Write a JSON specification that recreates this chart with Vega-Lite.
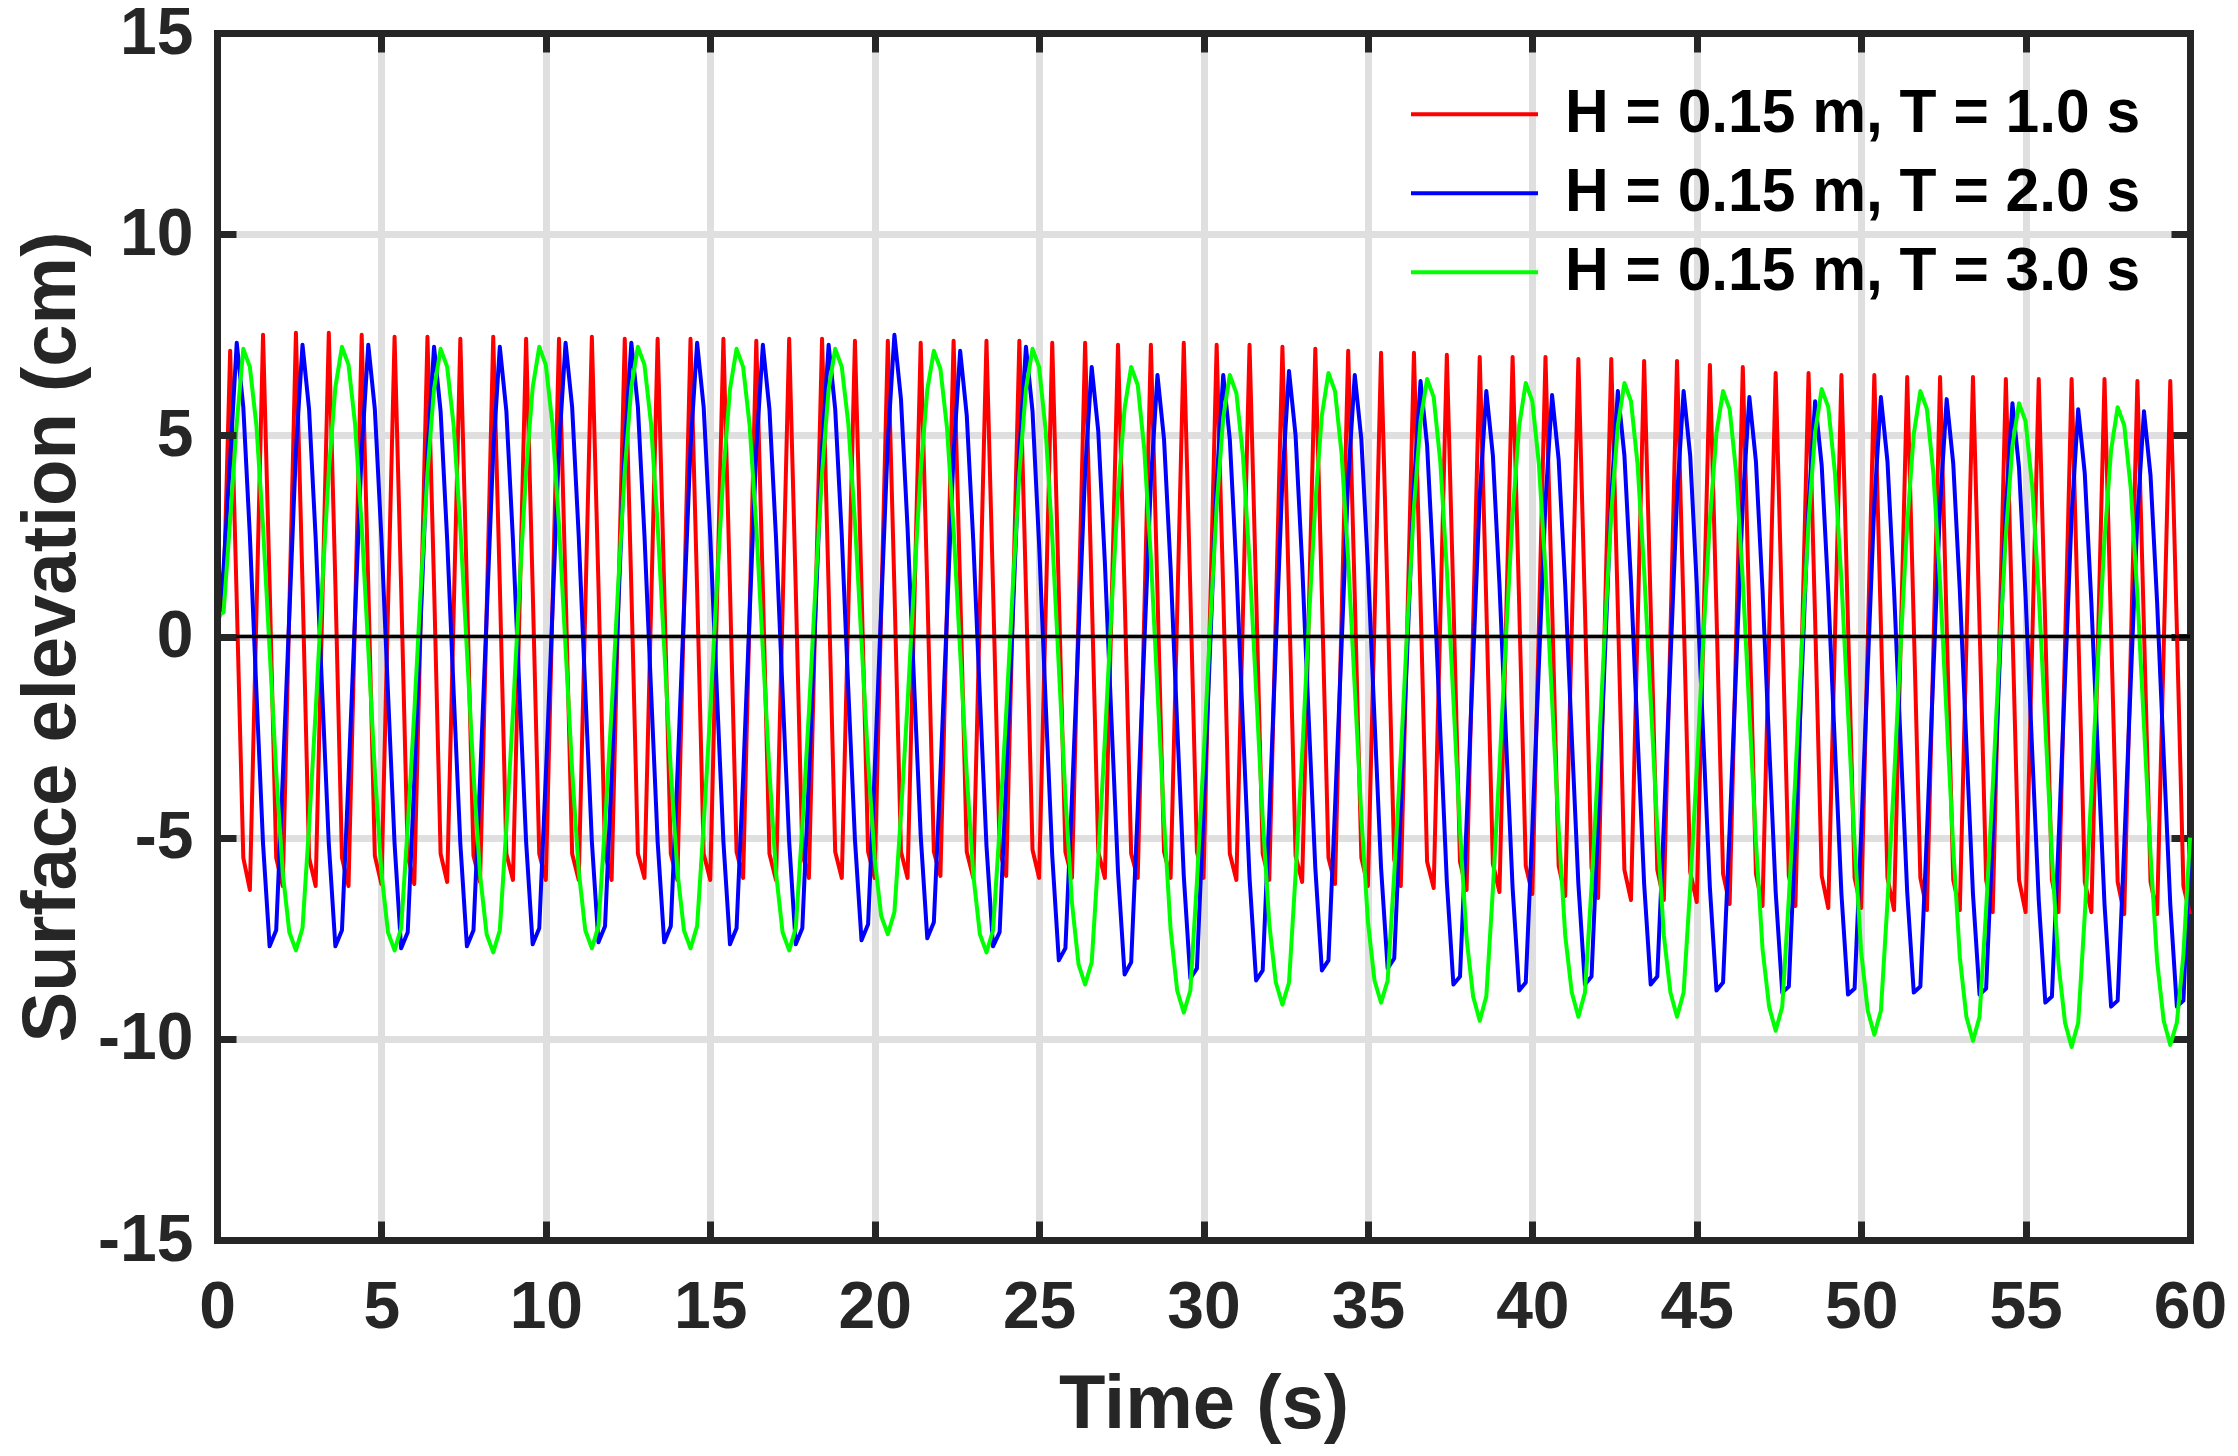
{
  "$schema": "https://vega.github.io/schema/vega-lite/v6.json",
  "description": "Surface elevation time series for three regular waves",
  "width": 1973,
  "height": 1207,
  "autosize": {"type": "none"},
  "padding": {"left": 217, "top": 33, "right": 48, "bottom": 216},
  "background": "white",
  "config": {
    "view": {"stroke": null},
    "axis": {
      "domainColor": "#262626", "domainWidth": 7, "domainCap": "square",
      "tickColor": "#262626", "tickWidth": 7, "tickSize": -19,
      "gridColor": "#dfdfdf", "gridWidth": 7, "gridOpacity": 1,
      "labelFont": "Liberation Sans", "labelFontWeight": "bold", "labelFontSize": 66, "labelColor": "#262626",
      "titleFont": "Liberation Sans", "titleFontWeight": "bold", "titleFontSize": 76, "titleColor": "#262626",
      "labelOverlap": false, "labelFlush": false
    }
  },
  "data": {
    "values": [
      {"t":0,"r":0.2,"b":0,"g":0.5},{"t":0.2,"r":1.0,"b":1.7,"g":0.6},{"t":0.4,"r":7.1,"b":4.4,"g":2.9},{"t":0.6,"r":0.9,"b":7.3,"g":5.3},{"t":0.8,"r":-5.5,"b":5.7,"g":7.15},
      {"t":1.0,"r":-6.3,"b":2.5,"g":6.7},{"t":1.2,"r":0.6,"b":-1.4,"g":5.23},{"t":1.4,"r":7.5,"b":-5.15,"g":2.72},{"t":1.6,"r":1.3,"b":-7.7,"g":-0.33},{"t":1.8,"r":-5.5,"b":-7.3,"g":-3.37},
      {"t":2.0,"r":-6.2,"b":-3.5,"g":-5.88},{"t":2.2,"r":0.7,"b":0.55,"g":-7.35},{"t":2.4,"r":7.55,"b":4.6,"g":-7.8},{"t":2.6,"r":1.3,"b":7.25,"g":-7.25},{"t":2.8,"r":-5.5,"b":5.65,"g":-4.71},
      {"t":3.0,"r":-6.2,"b":2.45,"g":-1.86},{"t":3.2,"r":0.7,"b":-1.4,"g":1.26},{"t":3.4,"r":7.55,"b":-5.15,"g":4.11},{"t":3.6,"r":1.3,"b":-7.7,"g":6.2},{"t":3.8,"r":-5.5,"b":-7.3,"g":7.2},
      {"t":4.0,"r":-6.2,"b":-3.5,"g":6.75},{"t":4.2,"r":0.6,"b":0.55,"g":5.27},{"t":4.4,"r":7.5,"b":4.6,"g":2.75},{"t":4.6,"r":1.3,"b":7.25,"g":-0.3},{"t":4.8,"r":-5.45,"b":5.65,"g":-3.35},
      {"t":5.0,"r":-6.15,"b":2.45,"g":-5.87},{"t":5.2,"r":0.7,"b":-1.4,"g":-7.35},{"t":5.4,"r":7.45,"b":-5.15,"g":-7.8},{"t":5.6,"r":1.2,"b":-7.75,"g":-7.25},{"t":5.8,"r":-5.45,"b":-7.35,"g":-4.72},
      {"t":6.0,"r":-6.15,"b":-3.55,"g":-1.88},{"t":6.2,"r":0.6,"b":0.5,"g":1.23},{"t":6.4,"r":7.45,"b":4.55,"g":4.07},{"t":6.6,"r":1.3,"b":7.2,"g":6.15},{"t":6.8,"r":-5.4,"b":5.6,"g":7.15},
      {"t":7.0,"r":-6.1,"b":2.4,"g":6.7},{"t":7.2,"r":0.7,"b":-1.45,"g":5.22},{"t":7.4,"r":7.4,"b":-5.15,"g":2.7},{"t":7.6,"r":1.2,"b":-7.7,"g":-0.35},{"t":7.8,"r":-5.45,"b":-7.3,"g":-3.4},
      {"t":8.0,"r":-6.1,"b":-3.55,"g":-5.92},{"t":8.2,"r":0.6,"b":0.5,"g":-7.4},{"t":8.4,"r":7.45,"b":4.6,"g":-7.85},{"t":8.6,"r":1.3,"b":7.2,"g":-7.3},{"t":8.8,"r":-5.4,"b":5.6,"g":-4.75},
      {"t":9.0,"r":-6.05,"b":2.4,"g":-1.89},{"t":9.2,"r":0.7,"b":-1.4,"g":1.24},{"t":9.4,"r":7.4,"b":-5.1,"g":4.1},{"t":9.6,"r":1.2,"b":-7.65,"g":6.19},{"t":9.8,"r":-5.4,"b":-7.25,"g":7.2},
      {"t":10.0,"r":-6.05,"b":-3.45,"g":6.75},{"t":10.2,"r":0.7,"b":0.6,"g":5.28},{"t":10.4,"r":7.4,"b":4.7,"g":2.77},{"t":10.6,"r":1.2,"b":7.3,"g":-0.28},{"t":10.8,"r":-5.4,"b":5.7,"g":-3.32},
      {"t":11.0,"r":-6.05,"b":2.5,"g":-5.83},{"t":11.2,"r":0.7,"b":-1.35,"g":-7.3},{"t":11.4,"r":7.45,"b":-5.1,"g":-7.75},{"t":11.6,"r":1.3,"b":-7.6,"g":-7.2},{"t":11.8,"r":-5.4,"b":-7.2,"g":-4.67},
      {"t":12.0,"r":-6.05,"b":-3.45,"g":-1.83},{"t":12.2,"r":0.7,"b":0.65,"g":1.28},{"t":12.4,"r":7.4,"b":4.7,"g":4.12},{"t":12.6,"r":1.2,"b":7.3,"g":6.2},{"t":12.8,"r":-5.4,"b":5.7,"g":7.2},
      {"t":13.0,"r":-6.0,"b":2.5,"g":6.75},{"t":13.2,"r":0.7,"b":-1.35,"g":5.28},{"t":13.4,"r":7.4,"b":-5.1,"g":2.77},{"t":13.6,"r":1.2,"b":-7.6,"g":-0.28},{"t":13.8,"r":-5.4,"b":-7.2,"g":-3.32},
      {"t":14.0,"r":-6.05,"b":-3.45,"g":-5.83},{"t":14.2,"r":0.7,"b":0.65,"g":-7.3},{"t":14.4,"r":7.4,"b":4.7,"g":-7.75},{"t":14.6,"r":1.2,"b":7.3,"g":-7.2},{"t":14.8,"r":-5.4,"b":5.7,"g":-4.68},
      {"t":15.0,"r":-6.05,"b":2.5,"g":-1.85},{"t":15.2,"r":0.7,"b":-1.35,"g":1.25},{"t":15.4,"r":7.4,"b":-5.1,"g":4.08},{"t":15.6,"r":1.2,"b":-7.65,"g":6.15},{"t":15.8,"r":-5.35,"b":-7.25,"g":7.15},
      {"t":16.0,"r":-6.0,"b":-3.5,"g":6.7},{"t":16.2,"r":0.7,"b":0.6,"g":5.23},{"t":16.4,"r":7.35,"b":4.65,"g":2.72},{"t":16.6,"r":1.2,"b":7.25,"g":-0.33},{"t":16.8,"r":-5.4,"b":5.65,"g":-3.37},
      {"t":17.0,"r":-6.05,"b":2.45,"g":-5.88},{"t":17.2,"r":0.7,"b":-1.4,"g":-7.35},{"t":17.4,"r":7.4,"b":-5.1,"g":-7.8},{"t":17.6,"r":1.2,"b":-7.65,"g":-7.25},{"t":17.8,"r":-5.4,"b":-7.25,"g":-4.72},
      {"t":18.0,"r":-6.0,"b":-3.5,"g":-1.88},{"t":18.2,"r":0.7,"b":0.6,"g":1.23},{"t":18.4,"r":7.4,"b":4.65,"g":4.07},{"t":18.6,"r":1.2,"b":7.25,"g":6.15},{"t":18.8,"r":-5.35,"b":5.65,"g":7.15},
      {"t":19.0,"r":-6.0,"b":2.5,"g":6.7},{"t":19.2,"r":0.7,"b":-1.35,"g":5.28},{"t":19.4,"r":7.35,"b":-5.05,"g":2.84},{"t":19.6,"r":1.2,"b":-7.55,"g":-0.13},{"t":19.8,"r":-5.35,"b":-7.15,"g":-3.09},
      {"t":20.0,"r":-6.0,"b":-3.35,"g":-5.53},{"t":20.2,"r":0.7,"b":0.75,"g":-6.95},{"t":20.4,"r":7.35,"b":4.85,"g":-7.4},{"t":20.6,"r":1.2,"b":7.5,"g":-6.85},{"t":20.8,"r":-5.35,"b":5.9,"g":-4.41},
      {"t":21.0,"r":-6.0,"b":2.7,"g":-1.66},{"t":21.2,"r":0.6,"b":-1.2,"g":1.36},{"t":21.4,"r":7.3,"b":-4.95,"g":4.11},{"t":21.6,"r":1.2,"b":-7.5,"g":6.13},{"t":21.8,"r":-5.35,"b":-7.1,"g":7.1},
      {"t":22.0,"r":-5.95,"b":-3.4,"g":6.65},{"t":22.2,"r":0.7,"b":0.55,"g":5.18},{"t":22.4,"r":7.35,"b":4.55,"g":2.67},{"t":22.6,"r":1.2,"b":7.1,"g":-0.38},{"t":22.8,"r":-5.35,"b":5.5,"g":-3.42},
      {"t":23.0,"r":-6.0,"b":2.35,"g":-5.93},{"t":23.2,"r":0.7,"b":-1.5,"g":-7.4},{"t":23.4,"r":7.35,"b":-5.2,"g":-7.85},{"t":23.6,"r":1.2,"b":-7.7,"g":-7.3},{"t":23.8,"r":-5.3,"b":-7.35,"g":-4.76},
      {"t":24.0,"r":-5.95,"b":-3.55,"g":-1.91},{"t":24.2,"r":0.7,"b":0.5,"g":1.21},{"t":24.4,"r":7.35,"b":4.55,"g":4.06},{"t":24.6,"r":1.2,"b":7.2,"g":6.15},{"t":24.8,"r":-5.3,"b":5.6,"g":7.15},
      {"t":25.0,"r":-6.0,"b":2.3,"g":6.7},{"t":25.2,"r":0.6,"b":-1.65,"g":5.12},{"t":25.4,"r":7.3,"b":-5.45,"g":2.47},{"t":25.6,"r":1.1,"b":-8.05,"g":-0.75},{"t":25.8,"r":-5.35,"b":-7.75,"g":-3.97},
      {"t":26.0,"r":-6.0,"b":-4.0,"g":-6.62},{"t":26.2,"r":0.6,"b":0.05,"g":-8.15},{"t":26.4,"r":7.3,"b":4.1,"g":-8.65},{"t":26.6,"r":1.1,"b":6.7,"g":-8.1},{"t":26.8,"r":-5.35,"b":5.1,"g":-5.49},
      {"t":27.0,"r":-6.0,"b":1.85,"g":-2.57},{"t":27.2,"r":0.6,"b":-2.05,"g":0.62},{"t":27.4,"r":7.25,"b":-5.85,"g":3.54},{"t":27.6,"r":1.1,"b":-8.4,"g":5.67},{"t":27.8,"r":-5.4,"b":-8.1,"g":6.7},
      {"t":28.0,"r":-6.0,"b":-4.3,"g":6.25},{"t":28.2,"r":0.6,"b":-0.2,"g":4.64},{"t":28.4,"r":7.25,"b":3.85,"g":1.94},{"t":28.6,"r":1.1,"b":6.5,"g":-1.33},{"t":28.8,"r":-5.35,"b":4.9,"g":-4.59},
      {"t":29.0,"r":-6.0,"b":1.7,"g":-7.29},{"t":29.2,"r":0.6,"b":-2.2,"g":-8.8},{"t":29.4,"r":7.3,"b":-5.95,"g":-9.35},{"t":29.6,"r":1.1,"b":-8.5,"g":-8.8},{"t":29.8,"r":-5.35,"b":-8.25,"g":-6.09},
      {"t":30.0,"r":-6.0,"b":-4.4,"g":-3.07},{"t":30.2,"r":0.6,"b":-0.3,"g":0.22},{"t":30.4,"r":7.25,"b":3.85,"g":3.23},{"t":30.6,"r":1.1,"b":6.5,"g":5.44},{"t":30.8,"r":-5.4,"b":4.9,"g":6.5},
      {"t":31.0,"r":-6.05,"b":1.7,"g":6.05},{"t":31.2,"r":0.6,"b":-2.25,"g":4.49},{"t":31.4,"r":7.25,"b":-6.0,"g":1.86},{"t":31.6,"r":1.1,"b":-8.55,"g":-1.33},{"t":31.8,"r":-5.4,"b":-8.3,"g":-4.51},
      {"t":32.0,"r":-6.05,"b":-4.45,"g":-7.14},{"t":32.2,"r":0.6,"b":-0.25,"g":-8.6},{"t":32.4,"r":7.2,"b":3.9,"g":-9.15},{"t":32.6,"r":1.0,"b":6.6,"g":-8.6},{"t":32.8,"r":-5.45,"b":5.0,"g":-5.92},
      {"t":33.0,"r":-6.1,"b":1.8,"g":-2.93},{"t":33.2,"r":0.5,"b":-2.05,"g":0.33},{"t":33.4,"r":7.15,"b":-5.75,"g":3.32},{"t":33.6,"r":1.0,"b":-8.3,"g":5.5},{"t":33.8,"r":-5.5,"b":-8.05,"g":6.55},
      {"t":34.0,"r":-6.15,"b":-4.25,"g":6.1},{"t":34.2,"r":0.5,"b":-0.2,"g":4.54},{"t":34.4,"r":7.1,"b":3.9,"g":1.91},{"t":34.6,"r":1.0,"b":6.5,"g":-1.28},{"t":34.8,"r":-5.5,"b":4.9,"g":-4.46},
      {"t":35.0,"r":-6.2,"b":1.75,"g":-7.09},{"t":35.2,"r":0.4,"b":-2.05,"g":-8.55},{"t":35.4,"r":7.05,"b":-5.75,"g":-9.1},{"t":35.6,"r":0.9,"b":-8.25,"g":-8.55},{"t":35.8,"r":-5.55,"b":-8.0,"g":-5.91},
      {"t":36.0,"r":-6.2,"b":-4.25,"g":-2.96},{"t":36.2,"r":0.4,"b":-0.25,"g":0.26},{"t":36.4,"r":7.05,"b":3.75,"g":3.21},{"t":36.6,"r":0.9,"b":6.35,"g":5.36},{"t":36.8,"r":-5.6,"b":4.75,"g":6.4},
      {"t":37.0,"r":-6.25,"b":1.55,"g":5.95},{"t":37.2,"r":0.4,"b":-2.35,"g":4.35},{"t":37.4,"r":7.0,"b":-6.1,"g":1.67},{"t":37.6,"r":0.9,"b":-8.65,"g":-1.58},{"t":37.8,"r":-5.6,"b":-8.45,"g":-4.82},
      {"t":38.0,"r":-6.3,"b":-4.65,"g":-7.5},{"t":38.2,"r":0.3,"b":-0.6,"g":-8.95},{"t":38.4,"r":6.95,"b":3.45,"g":-9.55},{"t":38.6,"r":0.8,"b":6.1,"g":-8.95},{"t":38.8,"r":-5.65,"b":4.5,"g":-6.29},
      {"t":39.0,"r":-6.35,"b":1.3,"g":-3.27},{"t":39.2,"r":0.3,"b":-2.55,"g":0.02},{"t":39.4,"r":6.95,"b":-6.25,"g":3.03},{"t":39.6,"r":0.8,"b":-8.8,"g":5.24},{"t":39.8,"r":-5.7,"b":-8.6,"g":6.3},
      {"t":40.0,"r":-6.4,"b":-4.8,"g":5.85},{"t":40.2,"r":0.3,"b":-0.7,"g":4.28},{"t":40.4,"r":6.95,"b":3.35,"g":1.63},{"t":40.6,"r":0.8,"b":6.0,"g":-1.58},{"t":40.8,"r":-5.7,"b":4.4,"g":-4.78},
      {"t":41.0,"r":-6.45,"b":1.25,"g":-7.43},{"t":41.2,"r":0.2,"b":-2.5,"g":-8.85},{"t":41.4,"r":6.9,"b":-6.15,"g":-9.45},{"t":41.6,"r":0.7,"b":-8.65,"g":-8.85},{"t":41.8,"r":-5.75,"b":-8.45,"g":-6.21},
      {"t":42.0,"r":-6.5,"b":-4.65,"g":-3.21},{"t":42.2,"r":0.2,"b":-0.6,"g":0.06},{"t":42.4,"r":6.9,"b":3.45,"g":3.06},{"t":42.6,"r":0.7,"b":6.1,"g":5.24},{"t":42.8,"r":-5.8,"b":4.5,"g":6.3},
      {"t":43.0,"r":-6.55,"b":1.35,"g":5.85},{"t":43.2,"r":0.2,"b":-2.45,"g":4.28},{"t":43.4,"r":6.85,"b":-6.15,"g":1.63},{"t":43.6,"r":0.7,"b":-8.65,"g":-1.58},{"t":43.8,"r":-5.8,"b":-8.45,"g":-4.78},
      {"t":44.0,"r":-6.55,"b":-4.65,"g":-7.43},{"t":44.2,"r":0.1,"b":-0.6,"g":-8.85},{"t":44.4,"r":6.85,"b":3.45,"g":-9.45},{"t":44.6,"r":0.6,"b":6.1,"g":-8.85},{"t":44.8,"r":-5.85,"b":4.5,"g":-6.25},
      {"t":45.0,"r":-6.6,"b":1.3,"g":-3.29},{"t":45.2,"r":0.1,"b":-2.55,"g":-0.06},{"t":45.4,"r":6.75,"b":-6.25,"g":2.9},{"t":45.6,"r":0.6,"b":-8.8,"g":5.06},{"t":45.8,"r":-5.9,"b":-8.6,"g":6.1},
      {"t":46.0,"r":-6.65,"b":-4.8,"g":5.65},{"t":46.2,"r":0.0,"b":-0.75,"g":4.06},{"t":46.4,"r":6.7,"b":3.35,"g":1.39},{"t":46.6,"r":0.5,"b":5.95,"g":-1.85},{"t":46.8,"r":-5.9,"b":4.35,"g":-5.09},
      {"t":47.0,"r":-6.7,"b":1.15,"g":-7.76},{"t":47.2,"r":0.0,"b":-2.65,"g":-9.2},{"t":47.4,"r":6.55,"b":-6.35,"g":-9.8},{"t":47.6,"r":0.4,"b":-8.85,"g":-9.2},{"t":47.8,"r":-5.95,"b":-8.7,"g":-6.51},
      {"t":48.0,"r":-6.7,"b":-4.9,"g":-3.48},{"t":48.2,"r":-0.1,"b":-0.85,"g":-0.17},{"t":48.4,"r":6.55,"b":3.25,"g":2.86},{"t":48.6,"r":0.4,"b":5.85,"g":5.08},{"t":48.8,"r":-5.95,"b":4.25,"g":6.15},
      {"t":49.0,"r":-6.75,"b":1.1,"g":5.7},{"t":49.2,"r":-0.1,"b":-2.7,"g":4.09},{"t":49.4,"r":6.5,"b":-6.4,"g":1.39},{"t":49.6,"r":0.3,"b":-8.9,"g":-1.88},{"t":49.8,"r":-6.0,"b":-8.75,"g":-5.14},
      {"t":50.0,"r":-6.75,"b":-4.9,"g":-7.84},{"t":50.2,"r":-0.1,"b":-0.8,"g":-9.3},{"t":50.4,"r":6.5,"b":3.3,"g":-9.9},{"t":50.6,"r":0.3,"b":5.95,"g":-9.3},{"t":50.8,"r":-6.0,"b":4.35,"g":-6.6},
      {"t":51.0,"r":-6.8,"b":1.15,"g":-3.56},{"t":51.2,"r":-0.2,"b":-2.65,"g":-0.24},{"t":51.4,"r":6.45,"b":-6.35,"g":2.8},{"t":51.6,"r":0.3,"b":-8.85,"g":5.03},{"t":51.8,"r":-6.0,"b":-8.7,"g":6.1},
      {"t":52.0,"r":-6.8,"b":-4.9,"g":5.65},{"t":52.2,"r":-0.2,"b":-0.8,"g":4.02},{"t":52.4,"r":6.45,"b":3.25,"g":1.31},{"t":52.6,"r":0.3,"b":5.9,"g":-1.98},{"t":52.8,"r":-6.05,"b":4.3,"g":-5.26},
      {"t":53.0,"r":-6.8,"b":1.15,"g":-7.97},{"t":53.2,"r":-0.2,"b":-2.7,"g":-9.45},{"t":53.4,"r":6.45,"b":-6.4,"g":-10.05},{"t":53.6,"r":0.3,"b":-8.9,"g":-9.45},{"t":53.8,"r":-6.05,"b":-8.75,"g":-6.79},
      {"t":54.0,"r":-6.85,"b":-4.95,"g":-3.77},{"t":54.2,"r":-0.2,"b":-0.9,"g":-0.48},{"t":54.4,"r":6.4,"b":3.2,"g":2.53},{"t":54.6,"r":0.2,"b":5.8,"g":4.74},{"t":54.8,"r":-6.05,"b":4.2,"g":5.8},
      {"t":55.0,"r":-6.85,"b":1.0,"g":5.35},{"t":55.2,"r":-0.2,"b":-2.85,"g":3.74},{"t":55.4,"r":6.4,"b":-6.55,"g":1.06},{"t":55.6,"r":0.2,"b":-9.1,"g":-2.2},{"t":55.8,"r":-6.05,"b":-8.95,"g":-5.46},
      {"t":56.0,"r":-6.85,"b":-5.15,"g":-8.14},{"t":56.2,"r":-0.2,"b":-1.05,"g":-9.6},{"t":56.4,"r":6.4,"b":3.0,"g":-10.2},{"t":56.6,"r":0.2,"b":5.65,"g":-9.6},{"t":56.8,"r":-6.1,"b":4.05,"g":-6.92},
      {"t":57.0,"r":-6.85,"b":0.85,"g":-3.9},{"t":57.2,"r":-0.2,"b":-2.95,"g":-0.6},{"t":57.4,"r":6.4,"b":-6.65,"g":2.42},{"t":57.6,"r":0.2,"b":-9.2,"g":4.63},{"t":57.8,"r":-6.1,"b":-9.05,"g":5.7},
      {"t":58.0,"r":-6.9,"b":-5.2,"g":5.25},{"t":58.2,"r":-0.3,"b":-1.1,"g":3.67},{"t":58.4,"r":6.35,"b":2.95,"g":1.02},{"t":58.6,"r":0.2,"b":5.6,"g":-2.2},{"t":58.8,"r":-6.1,"b":4.0,"g":-5.42},
      {"t":59.0,"r":-6.9,"b":0.85,"g":-8.07},{"t":59.2,"r":-0.3,"b":-2.95,"g":-9.55},{"t":59.4,"r":6.35,"b":-6.65,"g":-10.15},{"t":59.6,"r":0.2,"b":-9.2,"g":-9.6},{"t":59.8,"r":-6.2,"b":-9.05,"g":-7.9},
      {"t":60.0,"r":-6.9,"b":-5.2,"g":-5.0}
    ]
  },
  "layer": [
    {
      "mark": {"type": "line", "strokeWidth": 4, "strokeJoin": "round"},
      "encoding": {
        "x": {
          "field": "t", "type": "quantitative",
          "scale": {"domain": [0, 60], "nice": false},
          "axis": {
            "orient": "bottom", "values": [0, 5, 10, 15, 20, 25, 30, 35, 40, 45, 50, 55, 60],
            "grid": false, "labelPadding": 54, "zindex": 1,
            "title": "Time (s)", "titleY": 187, "titleBaseline": "alphabetic"
          }
        },
        "y": {
          "field": "r", "type": "quantitative",
          "scale": {"domain": [-15, 15], "nice": false},
          "axis": {
            "orient": "left", "values": [-15, -10, -5, 0, 5, 10, 15],
            "grid": false, "labelPadding": 43, "zindex": 1, "labelExpr": "'' + datum.value",
            "title": "Surface elevation (cm)", "titleX": -143, "titleBaseline": "alphabetic"
          }
        },
        "color": {
          "datum": "H = 0.15 m, T = 1.0 s", "type": "nominal",
          "scale": {
            "domain": ["H = 0.15 m, T = 1.0 s", "H = 0.15 m, T = 2.0 s", "H = 0.15 m, T = 3.0 s"],
            "range": ["#ff0000", "#0000ff", "#00ff00"]
          },
          "legend": {
            "orient": "none", "legendX": 1192, "legendY": 42, "title": null, "padding": 0,
            "symbolType": "stroke", "symbolSize": 16129, "symbolStrokeWidth": 4,
            "clipHeight": 78.5, "rowPadding": 0, "labelOffset": 25, "labelLimit": 1000,
            "labelFont": "Liberation Sans", "labelFontWeight": "bold", "labelFontSize": 60.5, "labelColor": "#000000"
          }
        }
      }
    },
    {
      "mark": {"type": "line", "strokeWidth": 4, "strokeJoin": "round"},
      "encoding": {
        "x": {
          "field": "t", "type": "quantitative",
          "axis": {
            "orient": "top", "values": [0, 5, 10, 15, 20, 25, 30, 35, 40, 45, 50, 55, 60],
            "grid": true, "labels": false, "title": null, "zindex": 0
          }
        },
        "y": {
          "field": "b", "type": "quantitative",
          "axis": {
            "orient": "right", "values": [-15, -10, -5, 0, 5, 10, 15],
            "grid": true, "labels": false, "title": null, "zindex": 0
          }
        },
        "color": {"datum": "H = 0.15 m, T = 2.0 s", "type": "nominal"}
      }
    },
    {
      "mark": {"type": "line", "strokeWidth": 4, "strokeJoin": "round"},
      "encoding": {
        "x": {"field": "t", "type": "quantitative", "axis": null},
        "y": {"field": "g", "type": "quantitative", "axis": null},
        "color": {"datum": "H = 0.15 m, T = 3.0 s", "type": "nominal"}
      }
    },
    {
      "data": {"values": [{"level": 0}]},
      "mark": {"type": "rule", "color": "#000000", "strokeWidth": 3.5},
      "encoding": {
        "y": {"field": "level", "type": "quantitative", "axis": null}
      }
    }
  ],
  "resolve": {"axis": {"x": "independent", "y": "independent"}}
}
